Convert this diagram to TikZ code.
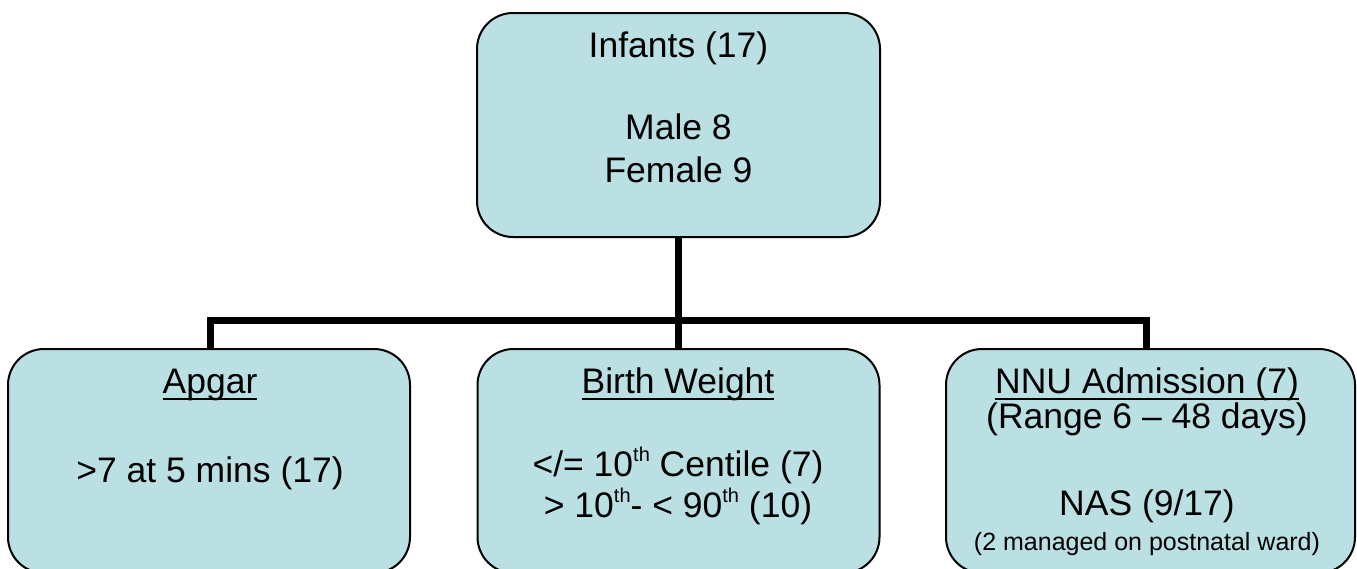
\documentclass[tikz,border=0pt]{standalone}
\usepackage{fontspec}
\setmainfont{Liberation Sans}
\definecolor{boxfill}{RGB}{187,224,227}
% underline at a fixed depth, crossing descenders
\newcommand\ulword[1]{{\sbox0{#1}\rlap{\rule[-0.2em]{\wd0}{0.06em}}\usebox0}}
\newcommand\sth{\raisebox{0.42em}{\fontsize{20}{20}\selectfont th}}
\begin{document}
\begin{tikzpicture}[x=1pt,y=-1pt,
  box/.style={draw=black, line width=2pt, fill=boxfill, rounded corners=36pt,
              inner sep=0pt, minimum height=224pt},
  link/.style={line width=7pt},
  txt/.style={anchor=base, inner sep=0pt, font=\fontsize{35.5}{41}\selectfont},
  small/.style={anchor=base, inner sep=0pt, font=\fontsize{25}{29}\selectfont}]
\useasboundingbox (0,0) rectangle (1357,568);

% boxes
\node[box, minimum width=403pt] (top)   at (678.5,125) {};
\node[box, minimum width=402pt] (left)  at (209,461) {};
\node[box, minimum width=402pt] (mid)   at (678.5,461) {};
\node[box, minimum width=409pt] (right) at (1150.5,461) {};

% connectors
\coordinate (bus) at (678.5,320);
\draw[link] (top.south) -- (mid.north);
\draw[link] ([xshift=1pt]left.north) |- (bus) -| ([xshift=-4.5pt]right.north);

% top box text
\node[txt] (t1) at (678.5,57)  {Infants (17)};
\node[txt] (t2) at (678.5,139) {Male 8};
\node[txt] (t3) at (678.5,182) {Female 9};

% left box text
\node[txt] (a1) at (210,393) {\ulword{Apgar}};
\node[txt] (a2) at (210,482) {>7 at 5 mins (17)};

% middle box text
\node[txt] (b1) at (678,393) {\ulword{Birth Weight}};
\node[txt] (b2) at (678,476) {</= 10\sth{} Centile (7)};
\node[txt] (b3) at (678,517) {> 10\sth- < 90\sth{} (10)};

% right box text
\node[txt] (n1) at (1147,393) {\ulword{NNU Admission (7)}};
\node[txt] (n2) at (1147,428) {(Range 6 -- 48 days)};
\node[txt] (n3) at (1147,515) {NAS (9/17)};
\node[small] (n4) at (1147,550) {(2 managed on postnatal ward)};
\end{tikzpicture}
\end{document}
